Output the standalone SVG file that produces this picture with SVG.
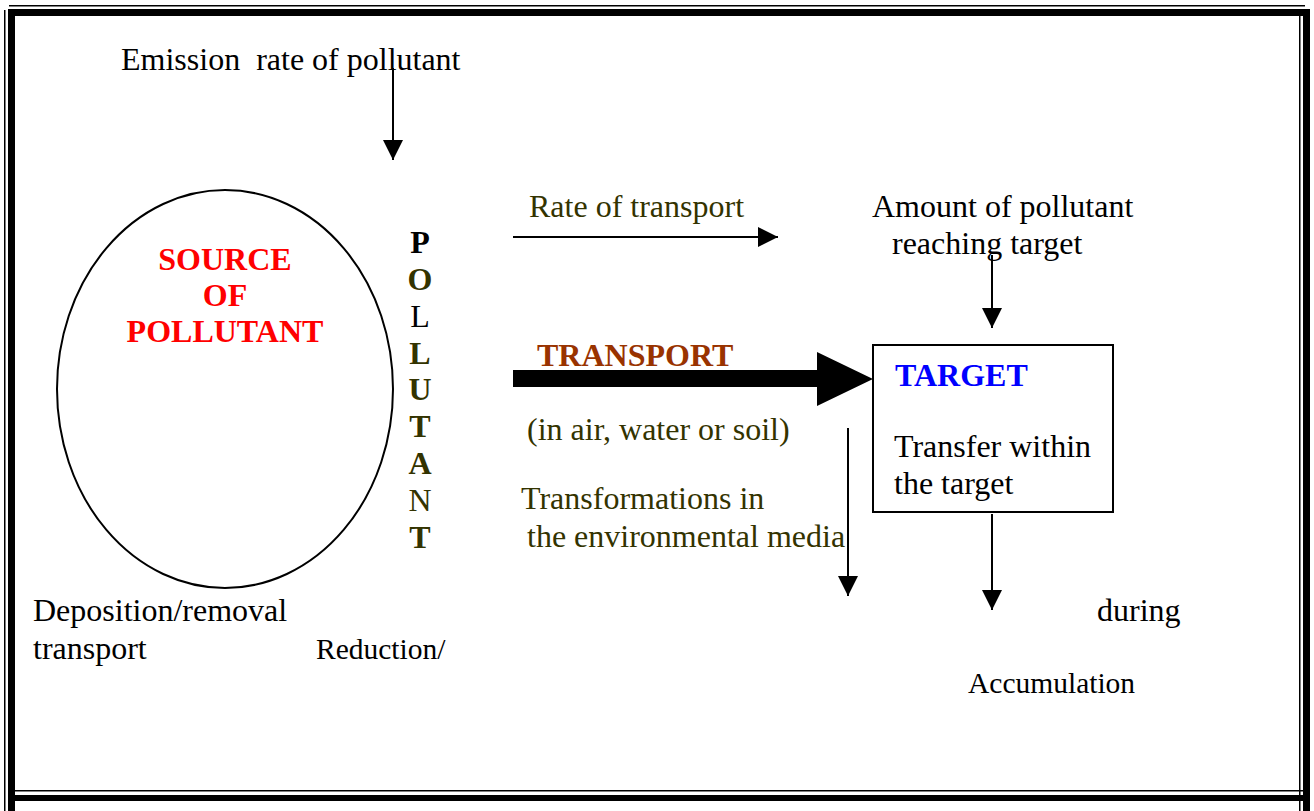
<svg xmlns="http://www.w3.org/2000/svg" width="1314" height="811" viewBox="0 0 1314 811">
  <style>
    text { font-family: "Liberation Serif", "Times New Roman", serif; font-size: 32px; fill: #000; white-space: pre; }
    .b { font-weight: bold; }
    .red { fill: #ff0000; }
    .olive { fill: #333300; }
    .brown { fill: #993300; }
    .blue { fill: #0000ff; }
    .small { font-size: 29.5px; }
    .thin { stroke: #000; stroke-width: 2; fill: none; }
    .frame { fill: #000; }
  </style>
  <defs>
    <marker id="head" markerUnits="userSpaceOnUse" markerWidth="20" markerHeight="20" refX="20" refY="10" orient="auto">
      <path d="M0,0 L20,10 L0,20 Z" fill="#000"/>
    </marker>
  </defs>

  <rect width="1314" height="811" fill="#fff"/>

  <!-- page frame: thin outer rule plus thick inner rule -->
  <g id="frame">
    <rect class="frame" x="9" y="5" width="1296" height="1.5"/>
    <rect class="frame" x="8" y="9" width="1302" height="7"/>
    <rect class="frame" x="4" y="10" width="1.5" height="801"/>
    <rect class="frame" x="8" y="9" width="7" height="802"/>
    <rect class="frame" x="1299" y="14" width="1.5" height="797"/>
    <rect class="frame" x="1303" y="9" width="7" height="802"/>
    <rect class="frame" x="15" y="790" width="1288" height="1.5"/>
    <rect class="frame" x="15" y="795" width="1288" height="6"/>
  </g>

  <!-- source -->
  <g id="source">
    <ellipse cx="225" cy="389" rx="168" ry="199" fill="none" stroke="#000" stroke-width="2"/>
    <text class="b red" x="225" y="270" text-anchor="middle">SOURCE</text>
    <text class="b red" x="225" y="306" text-anchor="middle">OF</text>
    <text class="b red" x="225" y="342" text-anchor="middle">POLLUTANT</text>
  </g>

  <!-- vertical word -->
  <g id="pollutant" text-anchor="middle">
    <text class="b" x="420" y="253">P</text>
    <text class="b olive" x="420" y="290">O</text>
    <text x="420" y="327">L</text>
    <text class="b olive" x="420" y="364">L</text>
    <text class="b olive" x="420" y="400">U</text>
    <text class="b olive" x="420" y="437">T</text>
    <text class="b olive" x="420" y="474">A</text>
    <text class="olive" x="420" y="511">N</text>
    <text class="b olive" x="420" y="548">T</text>
  </g>

  <!-- labels -->
  <g id="emission"><text x="121" y="70">Emission  rate of pollutant</text></g>
  <g id="rate"><text class="olive" x="529" y="217">Rate of transport</text></g>
  <g id="amount">
    <text x="872" y="217">Amount of pollutant</text>
    <text x="892" y="254">reaching target</text>
  </g>
  <g id="transport">
    <text class="b brown" x="537" y="366">TRANSPORT</text>
    <text class="olive" x="527" y="440">(in air, water or soil)</text>
  </g>
  <g id="transformations">
    <text class="olive" x="521" y="509">Transformations in</text>
    <text class="olive" x="527" y="547">the environmental media</text>
  </g>
  <g id="deposition">
    <text x="33" y="621">Deposition/removal</text>
    <text x="33" y="659">transport</text>
  </g>
  <g id="reduction"><text class="small" x="316" y="659">Reduction/</text></g>
  <g id="during"><text x="1097" y="621">during</text></g>
  <g id="accumulation"><text class="small" x="968" y="693">Accumulation</text></g>

  <!-- target -->
  <g id="target">
    <rect x="873" y="345" width="240" height="167" fill="#fff" stroke="#000" stroke-width="2"/>
    <text class="b blue" x="895" y="386">TARGET</text>
    <text x="894" y="457">Transfer within</text>
    <text x="894" y="494">the target</text>
  </g>

  <!-- connectors -->
  <g id="connectors">
    <polygon points="513,370 817,370 817,352 873,379 817,406 817,387 513,387" fill="#000"/>
    <line class="thin" x1="393" y1="68" x2="393" y2="160" marker-end="url(#head)"/>
    <line class="thin" x1="513" y1="237" x2="778" y2="237" marker-end="url(#head)"/>
    <line class="thin" x1="992" y1="255" x2="992" y2="328" marker-end="url(#head)"/>
    <line class="thin" x1="848" y1="428" x2="848" y2="596" marker-end="url(#head)"/>
    <line class="thin" x1="992" y1="514" x2="992" y2="610" marker-end="url(#head)"/>
  </g>
</svg>
